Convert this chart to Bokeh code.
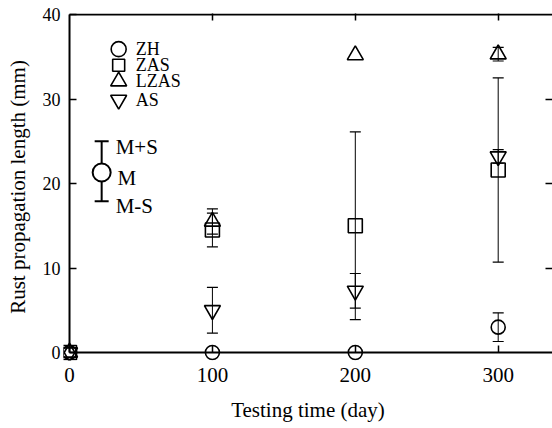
from bokeh.plotting import figure
from bokeh.models import (ColumnDataSource, Range1d, FixedTicker, LinearAxis,
                          Whisker, TeeHead)
from bokeh.core.properties import value
from bokeh.embed import file_html
from bokeh.resources import INLINE

# ---- data ----
days = [0, 100, 200, 300]
zh = [0.0, 0.0, 0.0, 3.0]
zh_err = [0.0, 0.0, 0.0, 1.7]
zas = [0.0, 14.5, 15.0, 21.6]
zas_err = [0.0, 2.0, 11.1, 10.9]
lzas = [0.0, 15.5, 35.2, 35.3]
lzas_err = [0.0, 1.5, 0.0, 0.8]
as_ = [0.0, 5.0, 7.3, 23.2]
as_err = [0.0, 2.7, 2.05, 0.8]

x_ticks = [0, 100, 200, 300]
y_ticks = [0, 10, 20, 30, 40]

series_names = ["ZH", "ZAS", "LZAS", "AS"]

# legend key positions (data units)
leg_x = 34.4
leg_text_x = 46.3
leg_y = [35.9, 34.0, 32.1, 29.9]

# key (mean +/- sd illustration)
key_x = [22.5]
key_m = [21.3]
key_lo = [17.9]
key_hi = [25.0]
key_text = ["M+S", "M", "M-S"]
key_text_x = [32.3, 33.5, 32.3]
key_text_y = [24.3, 20.6, 17.3]

# plot ranges: a small margin below/left of zero keeps markers at 0 unclipped
X_START, X_END = -4.21, 338.0
Y_START, Y_END = -0.947, 40.12
X_PAD_PX, Y_PAD_PX = 6, 8

FONT = "'Liberation Serif', 'Times New Roman', serif"

p = figure(width=552, height=428, output_backend="svg", toolbar_location=None,
           x_range=Range1d(X_START, X_END), y_range=Range1d(Y_START, Y_END),
           min_border_left=63, min_border_top=13, min_border_right=0,
           min_border_bottom=68)
p.grid.visible = False
p.outline_line_color = None
p.background_fill_color = "white"
p.border_fill_color = "white"


def style_axis(ax, labels=True, pad=0, size="21px"):
    ax.axis_line_color = None
    ax.major_tick_line_width = 1.5
    ax.major_tick_line_color = "black"
    ax.major_tick_in = 7 + pad
    ax.major_tick_out = -pad
    ax.minor_tick_line_color = None
    ax.major_label_text_font = FONT
    ax.major_label_text_font_size = size
    ax.major_label_text_color = "black"
    ax.axis_label_text_font = FONT
    ax.axis_label_text_font_size = "21px"
    ax.axis_label_text_font_style = "normal"
    ax.axis_label_text_color = "black"
    if not labels:
        ax.major_label_text_font_size = "1px"
        ax.major_label_text_color = None
        ax.major_label_standoff = 0


p.xaxis.ticker = FixedTicker(ticks=x_ticks)
p.yaxis.ticker = FixedTicker(ticks=y_ticks)
style_axis(p.xaxis[0], pad=Y_PAD_PX, size="21px")
style_axis(p.yaxis[0], pad=X_PAD_PX, size="18px")
p.xaxis.axis_label = "Testing time (day)"
p.yaxis.axis_label = "Rust propagation length (mm)"
p.xaxis.major_label_standoff = 7
p.xaxis.axis_label_standoff = 13
p.yaxis.major_label_standoff = 3
p.yaxis.axis_label_standoff = 10

top = LinearAxis(ticker=FixedTicker(ticks=[100, 200, 300]))
style_axis(top, labels=False)
p.add_layout(top, "above")
right = LinearAxis(ticker=FixedTicker(ticks=[10, 20, 30]))
style_axis(right, labels=False)
p.add_layout(right, "right")

# frame lines (left, bottom, top)
p.segment(x0=[0, 0, 0], y0=[0, 0, 40], x1=[0, X_END, X_END], y1=[40, 0, 40],
          line_color="black", line_width=2)


def add_err(xs, ys, errs):
    sx, lo, hi = [], [], []
    for x, y, e in zip(xs, ys, errs):
        if e > 0:
            sx.append(x); lo.append(y - e); hi.append(y + e)
    if not sx:
        return
    src = ColumnDataSource(dict(x=sx, lo=lo, hi=hi))
    w = Whisker(base="x", lower="lo", upper="hi", source=src,
                line_color="black", line_width=1,
                upper_head=TeeHead(size=11, line_width=1.2, line_color="black"),
                lower_head=TeeHead(size=11, line_width=1.2, line_color="black"))
    p.add_layout(w)


add_err(days, zh, zh_err)
add_err(days, zas, zas_err)
add_err(days, lzas, lzas_err)
add_err(days, as_, as_err)

common = dict(fill_color=None, line_color="black", line_width=1.6)
markers = [("circle", 14), ("square", 14), ("triangle", 16), ("inverted_triangle", 16)]
values = [zh, zas, lzas, as_]
for (m, s), v in zip(markers, values):
    p.scatter(days, v, marker=m, size=s, **common)

# legend (drawn as glyphs)
leg_sizes = [15, 12, 16, 16]
for (m, _), s, yy in zip(markers, leg_sizes, leg_y):
    p.scatter([leg_x], [yy], marker=m, size=s, **common)
p.text(x=[leg_text_x] * 4, y=leg_y, text=series_names, text_font=value(FONT),
       text_font_size=value("18px"), text_baseline="middle", text_align="left",
       text_color="black")

# key illustration
ksrc = ColumnDataSource(dict(x=key_x, lo=key_lo, hi=key_hi))
p.add_layout(Whisker(base="x", lower="lo", upper="hi", source=ksrc,
                     line_color="black", line_width=2,
                     upper_head=TeeHead(size=14, line_width=2, line_color="black"),
                     lower_head=TeeHead(size=14, line_width=2, line_color="black")))
p.scatter(key_x, key_m, marker="circle", size=18, fill_color="white",
          line_color="black", line_width=2)
p.text(x=key_text_x, y=key_text_y, text=key_text, text_font=value(FONT),
       text_font_size=value("21px"), text_baseline="middle", text_align="left",
       text_color="black")

open("out.html", "w").write(file_html(p, INLINE))
